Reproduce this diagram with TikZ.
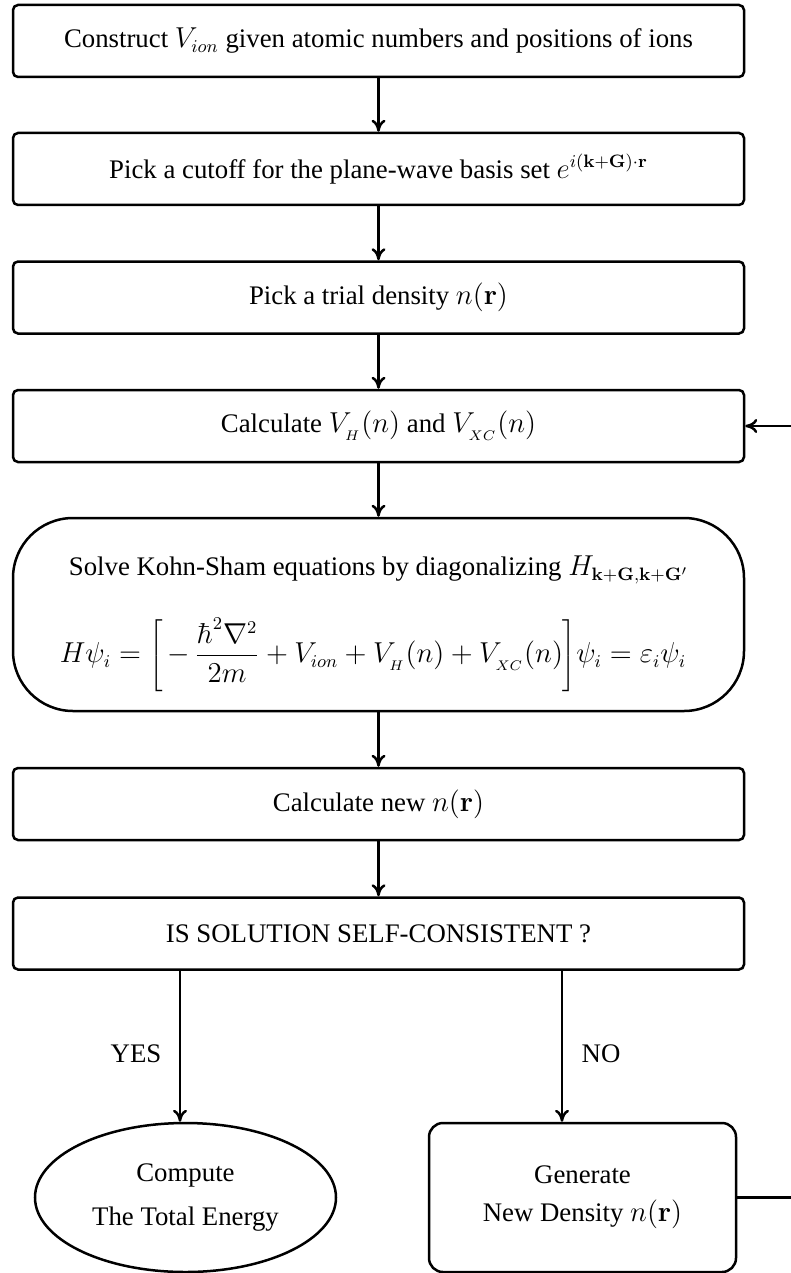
\documentclass[tikz,border=0pt]{standalone}
\usepackage[no-math]{fontspec}
\setmainfont{Liberation Serif}
\usetikzlibrary{shapes.geometric,arrows.meta}
\begin{document}
\begin{tikzpicture}[x=0.5pt,y=-0.5pt, font=\fontsize{13.4}{16}\selectfont,
  box/.style={draw, line width=1.25pt, rounded corners=2.5pt, minimum width=365.5pt, minimum height=36pt, inner sep=0pt},
  conn/.style={-{Computer Modern Rightarrow[length=6pt,width=7pt]}, line width=1.25pt},
  lbl/.style={inner sep=0pt}]
\useasboundingbox (0,0) rectangle (791,1273);
\clip (0,0) rectangle (791,1273);
\node[box] (b1) at (378.5,41) {Construct $V_{ion}$ given atomic numbers and positions of ions};
\node[box] (b2) at (378.5,169) {Pick a cutoff for the plane-wave basis set $e^{i(\mathbf{k}+\mathbf{G})\cdot\mathbf{r}}$};
\node[box] (b3) at (378.5,297.5) {Pick a trial density $n(\mathbf{r})$};
\node[box] (b4) at (378.5,426) {Calculate $V_{_H}(n)$ and $V_{_{XC}}(n)$};
\node[box, minimum height=96.5pt, rounded corners=30pt] (b5) at (378.5,614.5) {};
\node[lbl] (t5a) at (378.5,570) {Solve Kohn-Sham equations by diagonalizing $H_{\mathbf{k}+\mathbf{G},\mathbf{k}+\mathbf{G}'}$};
\node[lbl] (t5b) at (373,655) {$\displaystyle H\psi_i = \left[\,-\,\frac{\hbar^2\nabla^2}{2m} + V_{ion} + V_{_H}(n) + V_{_{XC}}(n)\right]\!\psi_i = \varepsilon_i\psi_i$};
\node[box] (b6) at (378.5,804) {Calculate new $n(\mathbf{r})$};
\node[box] (b7) at (378.5,933.5) {IS SOLUTION SELF-CONSISTENT ?};
\node[draw, ellipse, line width=1.25pt, minimum width=150.5pt, minimum height=74.5pt, inner sep=0pt, align=center] (ell) at (185.5,1197.5) {Compute\\[6pt]The Total Energy};
\node[draw, line width=1.25pt, rounded corners=7pt, minimum width=153.5pt, minimum height=74.5pt, inner sep=0pt, align=center] (gen) at (582.5,1197.5) {Generate\\[3pt]New Density $n(\mathbf{r})$};
\coordinate (yesX) at (180,0);
\coordinate (noX) at (562,0);
\coordinate (fb) at (800,1197.5);
\draw[conn] (b1) -- (b2);
\draw[conn] (b2) -- (b3);
\draw[conn] (b3) -- (b4);
\draw[conn] (b4) -- (b5);
\draw[conn] (b5) -- (b6);
\draw[conn] (b6) -- (b7);
\draw[conn] (b7.south -| yesX) -- (ell.north -| yesX);
\draw[conn] (b7.south -| noX) -- (gen.north -| noX);
\draw[conn] (gen.east) -- (fb) |- (b4.east);
\node[lbl] (yes) at (136,1054) {YES};
\node[lbl] (no) at (601,1054) {NO};
\end{tikzpicture}
\end{document}
